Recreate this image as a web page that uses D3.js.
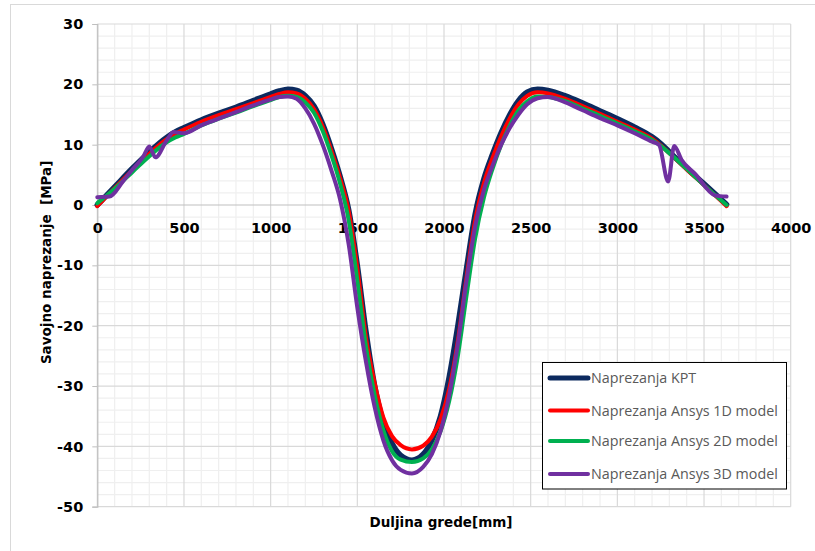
<!DOCTYPE html>
<html><head><meta charset="utf-8">
<script src="https://cdn.jsdelivr.net/npm/d3@7"></script>
<style>
html,body{margin:0;padding:0;background:#fff;}
svg{display:block;}
</style></head>
<body>
<svg id="chart" width="815" height="551"></svg>
<script>
// ---- data ----
const xTicks = [0, 500, 1000, 1500, 2000, 2500, 3000, 3500, 4000];
const yTicks = [30, 20, 10, 0, -10, -20, -30, -40, -50];
const seriesNames = ["Naprezanja KPT", "Naprezanja Ansys 1D model", "Naprezanja Ansys 2D model", "Naprezanja Ansys 3D model"];

const xGrid = [0,100,200,300,400,450,500,600,700,800,900,1000,1050,1100,1150,1200,1250,1300,1350,1400,1450,1500,1550,1600,1650,1700,1750,1815,1880,1930,1980,2030,2080,2130,2180,2230,2280,2330,2380,2430,2480,2540,2600,2700,2800,2900,3000,3100,3200,3250,3300,3400,3500,3630];
const kptY = [0,3.0,6.0,8.8,11.2,12.1,12.8,14.1,15.2,16.2,17.3,18.4,18.9,19.2,19.0,18.1,16.4,13.4,9.4,4.8,-0.8,-10,-21,-30,-36,-39.5,-41.5,-42.3,-41.3,-39,-35,-28.5,-20,-10.5,-1.5,4.3,8.4,12.0,15.0,17.3,18.7,19.2,19.0,18.1,16.9,15.6,14.3,12.9,11.3,10.2,8.8,6.1,3.5,0.1];
const ans1dY = [-0.2,2.8,5.7,8.5,10.9,11.8,12.5,13.8,14.9,15.9,16.9,17.9,18.4,18.7,18.5,17.6,15.9,13.0,9.0,4.5,-1.0,-10.5,-22,-29.5,-35.2,-38.3,-39.8,-40.5,-39.9,-38.4,-35.5,-30.5,-22.5,-12,-2.5,3.6,7.8,11.4,14.4,16.7,18.1,18.7,18.5,17.6,16.4,15.1,13.8,12.5,11.0,9.9,8.6,5.9,3.3,-0.2];
const ans2dY = [0.3,2.7,5.4,8.1,10.4,11.2,11.8,13.2,14.3,15.3,16.4,17.4,17.9,18.1,17.9,17.0,15.3,12.3,8.3,3.6,-2.5,-12.5,-23.5,-31.5,-37.3,-40.8,-42.2,-42.6,-42.0,-40.5,-37.5,-32.5,-25,-15,-5.5,1.2,6.0,10.0,13.2,15.7,17.2,18.0,17.9,17.2,16.0,14.8,13.5,12.2,10.8,9.8,8.6,6.0,3.3,0.0];
const ans3dX = [0,70,150,200,265,300,335,400,440,500,600,700,800,900,1000,1050,1100,1150,1200,1250,1300,1350,1400,1450,1500,1550,1600,1650,1700,1750,1815,1880,1930,1980,2030,2080,2130,2180,2230,2280,2330,2380,2430,2480,2540,2600,2700,2800,2900,3000,3100,3200,3240,3293,3328,3370,3450,3563,3630];
const ans3dY = [1.3,1.4,4.0,5.8,8.0,9.7,7.9,10.7,12.1,11.9,13.2,14.3,15.4,16.5,17.5,17.9,18.0,17.6,16.0,13.5,10.0,5.8,1.0,-6.5,-17,-26,-33.5,-39,-42.3,-43.9,-44.5,-43.4,-41.3,-37.5,-31.5,-23,-12.5,-3.5,2.5,6.5,10.0,12.8,15.0,16.7,17.7,17.9,17.0,15.7,14.4,13.2,11.9,10.5,10.0,3.9,9.8,7.5,5.1,1.6,1.4];

const colors = ["#0c2a5f", "#ff0000", "#00b050", "#7030a0"];
const widths = [5.5, 4, 4, 4];
const TICKFONT = "'DejaVu Sans', sans-serif";
const LEGFONT = "'Open Sans', 'DejaVu Sans', sans-serif";

// ---- layout ----
const svg = d3.select("#chart");
const pL = 97.3, pR = 790.7, pT = 24, pB = 506.7;
const x = d3.scaleLinear().domain([0, 4000]).range([pL, pR]);
const y = d3.scaleLinear().domain([-50, 30]).range([pB, pT]);
const plain = d => String(d);

// outer chart border
svg.append("rect").attr("x", 10.5).attr("y", 4.5).attr("width", 830).attr("height", 580)
  .attr("fill", "#fff").attr("stroke", "#d9d9d9").attr("stroke-width", 1);

// minor grid
const g = svg.append("g");
g.selectAll(".mx").data(d3.range(0, 4001, 100).filter(v => v % 500 !== 0)).join("line")
  .attr("x1", d => x(d)).attr("x2", d => x(d)).attr("y1", pT).attr("y2", pB)
  .attr("stroke", "#efefef").attr("stroke-width", 1.2);
g.selectAll(".my").data(d3.range(-50, 31, 2).filter(v => v % 10 !== 0)).join("line")
  .attr("x1", pL).attr("x2", pR).attr("y1", d => y(d)).attr("y2", d => y(d))
  .attr("stroke", "#efefef").attr("stroke-width", 1.2);
// major grid
g.selectAll(".Mx").data(xTicks).join("line")
  .attr("x1", d => x(d)).attr("x2", d => x(d)).attr("y1", pT).attr("y2", pB)
  .attr("stroke", "#d9d9d9").attr("stroke-width", 1.2);
g.selectAll(".My").data(yTicks).join("line")
  .attr("x1", pL).attr("x2", pR).attr("y1", d => y(d)).attr("y2", d => y(d))
  .attr("stroke", d => d === 0 ? "#bfbfbf" : "#d9d9d9").attr("stroke-width", 1.2);

// y axis
const yAxis = d3.axisLeft(y).tickValues(yTicks).tickFormat(plain).tickSize(5).tickPadding(9);
const ya = svg.append("g").attr("transform", `translate(${pL},0)`).call(yAxis);
ya.select(".domain").attr("stroke", "#bfbfbf").attr("stroke-width", 1.2);
ya.selectAll(".tick line").attr("stroke", "#bfbfbf");
ya.selectAll(".tick text").attr("fill", "#000")
  .style("font-family", TICKFONT).style("font-size", "14.5px").style("font-weight", "bold");

// x axis at y=0
const xAxis = d3.axisBottom(x).tickValues(xTicks).tickFormat(plain).tickSize(0).tickPadding(18);
const xa = svg.append("g").attr("transform", `translate(0,${y(0)})`).call(xAxis);
xa.select(".domain").remove();
xa.selectAll(".tick text").attr("fill", "#000")
  .style("font-family", TICKFONT).style("font-size", "14.5px").style("font-weight", "bold");

// axis titles
svg.append("text").attr("transform", `translate(51,${(pT + pB) / 2 - 3}) rotate(-90)`)
  .attr("text-anchor", "middle").attr("fill", "#000")
  .style("font-family", TICKFONT).style("font-size", "13.5px").style("font-weight", "bold")
  .style("white-space", "pre").text("Savojno naprezanje  [MPa]");
svg.append("text").attr("x", 441).attr("y", 527)
  .attr("text-anchor", "middle").attr("fill", "#000")
  .style("font-family", TICKFONT).style("font-size", "13.5px").style("font-weight", "bold")
  .text("Duljina grede[mm]");

// series
const series = [
  {xs: xGrid, ys: kptY},
  {xs: xGrid, ys: ans1dY},
  {xs: xGrid, ys: ans2dY},
  {xs: ans3dX, ys: ans3dY}
];
const line = d3.line().x(d => x(d[0])).y(d => y(d[1])).curve(d3.curveMonotoneX);
series.forEach((s, i) => {
  const pts = s.xs.map((v, k) => [v, s.ys[k]]);
  svg.append("path").attr("d", line(pts))
    .attr("fill", "none").attr("stroke", colors[i]).attr("stroke-width", widths[i])
    .attr("stroke-linejoin", "round").attr("stroke-linecap", "round");
});

// legend
const lg = svg.append("g");
lg.append("rect").attr("x", 542.5).attr("y", 362.5).attr("width", 244).attr("height", 126.5)
  .attr("fill", "#fff").attr("stroke", "#000").attr("stroke-width", 1);
const ly = [378, 410.5, 441, 474];
seriesNames.forEach((n, i) => {
  lg.append("line").attr("x1", 550).attr("x2", 588).attr("y1", ly[i]).attr("y2", ly[i])
    .attr("stroke", colors[i]).attr("stroke-width", i === 0 ? 5 : 4).attr("stroke-linecap", "round");
  lg.append("text").attr("x", 591).attr("y", ly[i]).attr("dy", "0.35em")
    .attr("fill", "#595959")
    .style("font-family", LEGFONT).style("font-size", "14.3px")
    .text(n);
});
</script>
</body></html>
